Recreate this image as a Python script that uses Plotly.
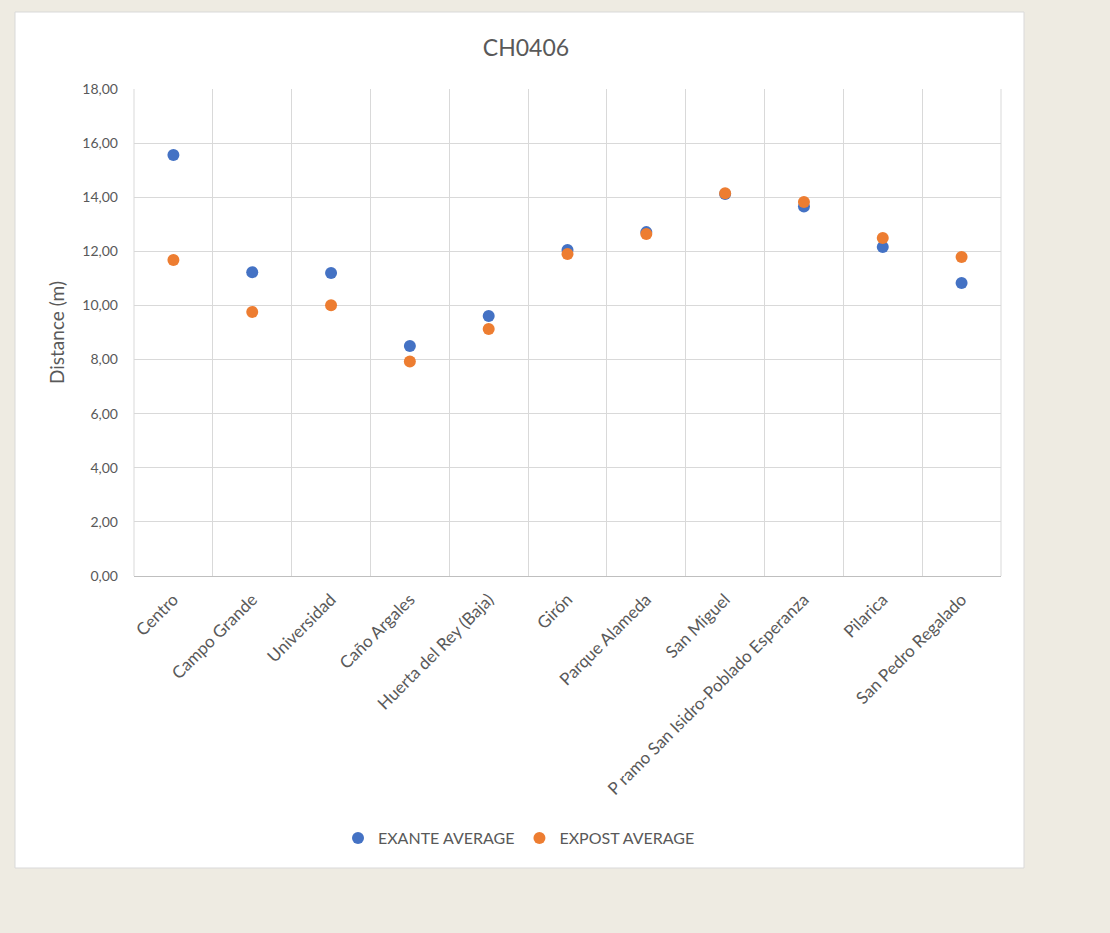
import plotly.graph_objects as go

categories = ["Centro", "Campo Grande", "Universidad", "Caño Argales", "Huerta del Rey (Baja)",
              "Girón", "Parque Alameda", "San Miguel", "P ramo San Isidro-Poblado Esperanza",
              "Pilarica", "San Pedro Regalado"]
exante = [15.56, 11.23, 11.20, 8.50, 9.61, 12.05, 12.71, 14.12, 13.66, 12.16, 10.83]
expost = [11.68, 9.76, 10.01, 7.93, 9.13, 11.90, 12.64, 14.15, 13.82, 12.49, 11.79]
y_ticks = [0, 2, 4, 6, 8, 10, 12, 14, 16, 18]

W, H = 1110, 933
L, R, T, B = 134, 1001, 89, 576
pw, ph = R - L, B - T

def px(x):
    return (x - L) / pw

def py(y):
    return (B - y) / ph

font = "Lato, 'Open Sans', sans-serif"
grey = "#595959"

fig = go.Figure()
fig.add_trace(go.Scatter(x=categories, y=exante, mode="markers", name="EXANTE AVERAGE",
                         marker=dict(color="#4472C4", size=12)))
fig.add_trace(go.Scatter(x=categories, y=expost, mode="markers", name="EXPOST AVERAGE",
                         marker=dict(color="#ED7D31", size=12)))

fig.update_layout(
    width=W, height=H,
    margin=dict(l=L, r=W - R, t=T, b=H - B, autoexpand=False),
    paper_bgcolor="#eeebe2",
    plot_bgcolor="white",
    separators=",.",
    font=dict(family=font, color=grey, size=15),
    title=dict(text="CH0406", x=526 / W, y=1 - 48 / H, xanchor="center", yanchor="middle",
               xref="container", yref="container", font=dict(size=23, color=grey, family=font)),
    showlegend=True,
    legend=dict(orientation="h", x=px(519), y=py(838), xanchor="center", yanchor="middle",
                font=dict(size=16, color=grey), itemwidth=30, bgcolor="rgba(0,0,0,0)"),
    shapes=[dict(type="rect", xref="paper", yref="paper", x0=px(15), x1=px(1024), y0=py(868), y1=py(12),
                 fillcolor="white", line=dict(color="#d9d9d9", width=1), layer="below")],
    annotations=[dict(text="Distance (m)", xref="paper", yref="paper", x=px(56), y=py(333), textangle=-90,
                      showarrow=False, font=dict(size=19, color=grey, family=font),
                      xanchor="center", yanchor="middle")],
)
fig.update_xaxes(type="category", range=[-0.5, len(categories) - 0.5], tickson="boundaries",
                 showgrid=True, gridcolor="#d9d9d9",
                 tickangle=-45, ticks="", showline=True, linecolor="#bfbfbf", mirror=False,
                 tickfont=dict(size=17, color=grey, family=font), ticklabelstandoff=6)
fig.update_yaxes(range=[0, 18], tickvals=y_ticks, tickformat=".2f", showgrid=True, gridcolor="#d9d9d9",
                 zeroline=False, showline=False, ticks="", ticklabelstandoff=15,
                 tickfont=dict(size=14, color=grey, family=font))
fig.add_shape(type="line", xref="paper", yref="paper", x0=1, x1=1, y0=0, y1=1,
              line=dict(color="#d9d9d9", width=1), layer="below")
fig.add_shape(type="line", xref="paper", yref="paper", x0=0, x1=0, y0=0, y1=1,
              line=dict(color="#d9d9d9", width=1), layer="below")

fig.write_html("out.html")
